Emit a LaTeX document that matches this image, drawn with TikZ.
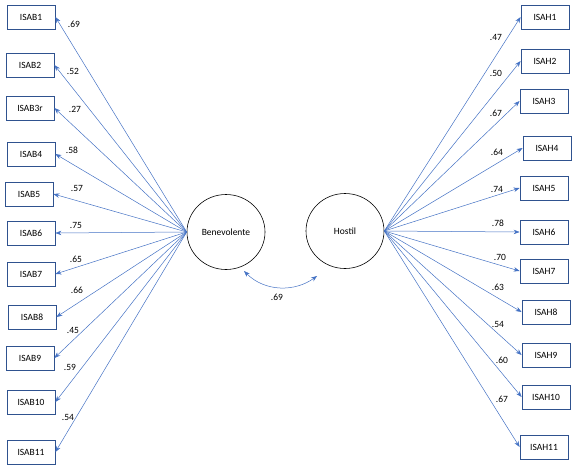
\documentclass[tikz,border=0pt]{standalone}
\usepackage{fontspec}
\setmainfont{Carlito}
\usetikzlibrary{arrows.meta,shapes.geometric}
\definecolor{arrowblue}{HTML}{4472C4}
\definecolor{boxblue}{HTML}{2F528F}
\begin{document}
\begin{tikzpicture}[x=1pt,y=-1pt,
  item/.style={draw=boxblue,line width=0.8pt,minimum width=48pt,minimum height=24pt,inner sep=0pt,font=\fontsize{9.5}{11}\selectfont},
  latent/.style={draw=black,line width=0.6pt,ellipse,minimum width=78pt,minimum height=75pt,inner sep=0pt,font=\fontsize{9.5}{11}\selectfont},
  load/.style={draw=arrowblue,line width=0.5pt,-{Stealth[length=6pt,width=4.5pt]}},
  lbl/.style={font=\fontsize{9.5}{11}\selectfont,inner sep=0pt}]
\useasboundingbox (0,0) rectangle (576,472);
% latent variables
\node[latent] (B) at (226,232) {Benevolente};
\node[latent] (H) at (345,231) {Hostil};
% left items
\node[item] (b1) at (31,17) {ISAB1};
\node[item] (b2) at (30,65) {ISAB2};
\node[item] (b3) at (30,108) {ISAB3r};
\node[item] (b4) at (31,154) {ISAB4};
\node[item] (b5) at (29,194) {ISAB5};
\node[item] (b6) at (31,233) {ISAB6};
\node[item] (b7) at (31,274) {ISAB7};
\node[item] (b8) at (32,317) {ISAB8};
\node[item] (b9) at (30,358) {ISAB9};
\node[item] (b10) at (31,402) {ISAB10};
\node[item] (b11) at (31,452) {ISAB11};
% right items
\node[item] (h1) at (545,17) {ISAH1};
\node[item] (h2) at (545,61) {ISAH2};
\node[item] (h3) at (544,101) {ISAH3};
\node[item] (h4) at (547,148) {ISAH4};
\node[item] (h5) at (544,188) {ISAH5};
\node[item] (h6) at (544,232) {ISAH6};
\node[item] (h7) at (544,271) {ISAH7};
\node[item] (h8) at (546,312) {ISAH8};
\node[item] (h9) at (546,355) {ISAH9};
\node[item] (h10) at (546,397) {ISAH10};
\node[item] (h11) at (544,447) {ISAH11};
% loadings
\foreach \i in {1,...,11} {
  \draw[load] (B.west) -- (b\i.east);
  \draw[load] (H.east) -- (h\i.west);
}
% labels left
\node[lbl] (lb1) at (74,24) {.69};
\node[lbl] (lb2) at (73,71) {.52};
\node[lbl] (lb3) at (75,109) {.27};
\node[lbl] (lb4) at (72,150) {.58};
\node[lbl] (lb5) at (77,188) {.57};
\node[lbl] (lb6) at (76,225) {.75};
\node[lbl] (lb7) at (76,259) {.65};
\node[lbl] (lb8) at (77,290) {.66};
\node[lbl] (lb9) at (73,330) {.45};
\node[lbl] (lb10) at (70,367) {.59};
\node[lbl] (lb11) at (68,417) {.54};
% labels right
\node[lbl] (lh1) at (496,37) {.47};
\node[lbl] (lh2) at (496,73) {.50};
\node[lbl] (lh3) at (496,113) {.67};
\node[lbl] (lh4) at (497,152) {.64};
\node[lbl] (lh5) at (497,189) {.74};
\node[lbl] (lh6) at (498,223) {.78};
\node[lbl] (lh7) at (500,257) {.70};
\node[lbl] (lh8) at (498,287) {.63};
\node[lbl] (lh9) at (498,324) {.54};
\node[lbl] (lh10) at (502,360) {.60};
\node[lbl] (lh11) at (502,399) {.67};
% correlation
\coordinate (cb) at (244,271);
\coordinate (ch) at (317,276);
\draw[draw=arrowblue,line width=0.5pt,{Stealth[length=6pt,width=4.5pt]}-{Stealth[length=6pt,width=4.5pt]}]
  (cb) .. controls (265,292) and (295,292) .. (ch);
\node[lbl] (corr) at (277,297) {.69};
\end{tikzpicture}
\end{document}
